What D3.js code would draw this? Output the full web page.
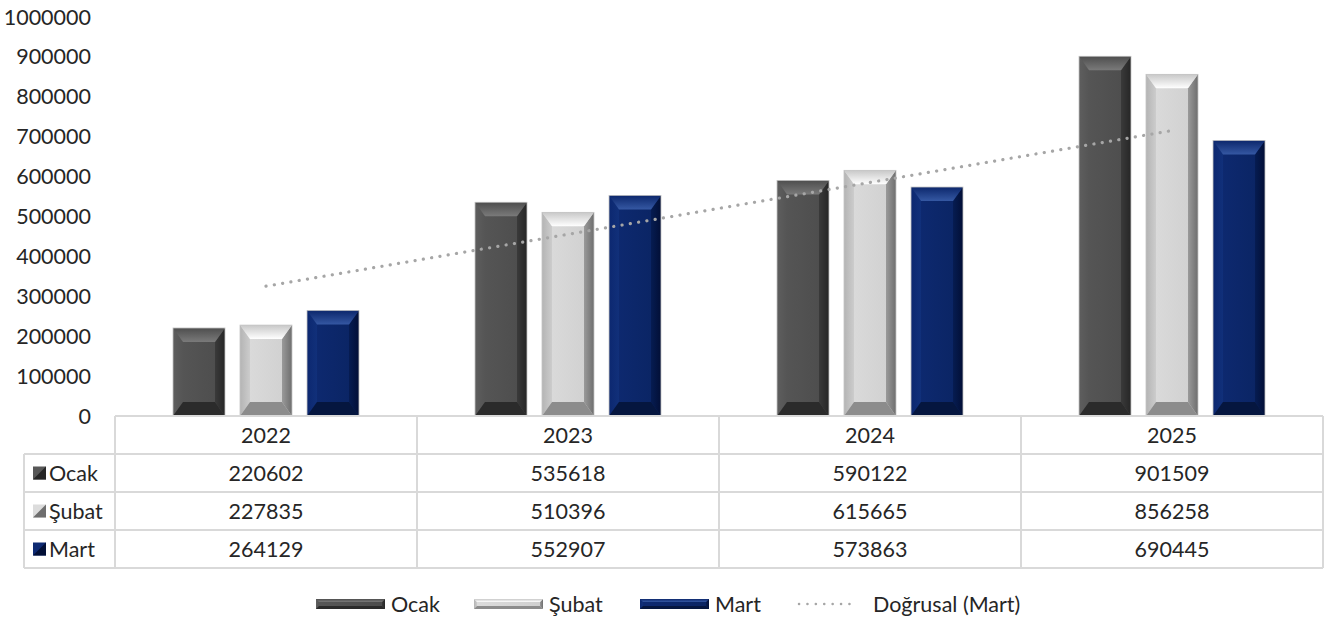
<!DOCTYPE html>
<html>
<head>
<meta charset="utf-8">
<script src="https://cdn.jsdelivr.net/npm/d3@7"></script>
<style>
  body { margin: 0; background: #fff; }
  svg text { font-family: Lato, "Open Sans", sans-serif; fill: #262626; font-size: 21.5px; }
</style>
</head>
<body>
<div id="chart"></div>
<script>
var years = ["2022", "2023", "2024", "2025"];
var seriesNames = ["Ocak", "Şubat", "Mart"];
var ocak = [220602, 535618, 590122, 901509];
var subat = [227835, 510396, 615665, 856258];
var mart = [264129, 552907, 573863, 690445];
var yTicks = [0, 100000, 200000, 300000, 400000, 500000, 600000, 700000, 800000, 900000, 1000000];
var trendLabel = "Doğrusal (Mart)";

// bevel colours per series
var palettes = [
  { id: "oc", face: ["#575757", "#4c4c4c"], topOut: "#4e4e4e", topIn: "#7a7a7a", left: ["#5e5e5e", "#555555"], right: ["#3a3a3a", "#262626"], bottom: "#2b2b2b" },
  { id: "su", face: ["#dcdcdc", "#cfcfcf"], topOut: "#c8c8c8", topIn: "#ffffff", left: ["#b4b4b4", "#cccccc"], right: ["#9a9a9a", "#6e6e6e"], bottom: "#8c8c8c" },
  { id: "ma", face: ["#0e2a72", "#0a2462"], topOut: "#0c276c", topIn: "#3558a3", left: ["#0c2870", "#11307a"], right: ["#061c52", "#020f36"], bottom: "#05163f" }
];

function drawChart() {
  var width = 1341, height = 622;
  var values = [ocak, subat, mart];
  var svg = d3.select("#chart").append("svg")
    .attr("width", width)
    .attr("height", height);

  var defs = svg.append("defs");
  palettes.forEach(function (p) {
    function grad(name, c0, c1, vertical) {
      var g = defs.append("linearGradient").attr("id", p.id + name)
        .attr("x1", 0).attr("y1", 0).attr("x2", vertical ? 0 : 1).attr("y2", vertical ? 1 : 0);
      g.append("stop").attr("offset", "0%").attr("stop-color", c0);
      g.append("stop").attr("offset", "100%").attr("stop-color", c1);
    }
    grad("face", p.face[0], p.face[1], false);
    grad("top", p.topOut, p.topIn, true);
    grad("left", p.left[0], p.left[1], false);
    grad("right", p.right[0], p.right[1], false);
  });

  var plotLeft = 115, plotRight = 1323, plotTop = 17, plotBottom = 416;
  var rowH = 38;

  var x = d3.scaleBand().domain(years).range([plotLeft, plotRight]);
  var x1 = d3.scaleBand().domain(seriesNames)
    .range([58, x.bandwidth() - 58])
    .paddingInner(0.224);
  var y = d3.scaleLinear().domain([0, 1000000]).range([plotBottom, plotTop]);

  // y axis labels
  svg.append("g").selectAll("text")
    .data(yTicks)
    .join("text")
    .attr("x", 91)
    .attr("y", d => y(d))
    .attr("dy", "0.35em")
    .attr("text-anchor", "end")
    .text(d => d);

  function bevelBar(g, x0, w, yTop, yBot, pal, bx, by, outline) {
    var x2 = x0 + w;
    bx = Math.min(bx, w / 2);
    by = Math.min(by, (yBot - yTop) / 2);
    g.append("rect").attr("x", x0).attr("y", yTop).attr("width", w).attr("height", yBot - yTop)
      .attr("fill", "url(#" + pal.id + "face)");
    var pts = {
      top: [[x0, yTop], [x2, yTop], [x2 - bx, yTop + by], [x0 + bx, yTop + by]],
      bottom: [[x0, yBot], [x2, yBot], [x2 - bx, yBot - by], [x0 + bx, yBot - by]],
      left: [[x0, yTop], [x0 + bx, yTop + by], [x0 + bx, yBot - by], [x0, yBot]],
      right: [[x2, yTop], [x2 - bx, yTop + by], [x2 - bx, yBot - by], [x2, yBot]]
    };
    var fills = { top: "url(#" + pal.id + "top)", left: "url(#" + pal.id + "left)", right: "url(#" + pal.id + "right)", bottom: pal.bottom };
    ["left", "right", "top", "bottom"].forEach(function (k) {
      g.append("polygon")
        .attr("points", pts[k].map(p => p.join(",")).join(" "))
        .attr("fill", fills[k]);
    });
    if (outline) {
      g.append("rect").attr("x", x0).attr("y", yTop).attr("width", w).attr("height", yBot - yTop)
        .attr("fill", "none").attr("stroke", "#c4c4c4").attr("stroke-width", 0.8);
    }
  }

  // bars
  var bars = svg.append("g");
  years.forEach(function (yr, i) {
    seriesNames.forEach(function (s, j) {
      var bx = x(yr) + x1(s);
      bevelBar(bars, bx, x1.bandwidth(), y(values[j][i]), y(0), palettes[j], 10, 14, true);
    });
  });

  // linear trendline of Mart
  var n = mart.length;
  var xs = d3.range(1, n + 1);
  var mx = d3.mean(xs), my = d3.mean(mart);
  var slope = d3.sum(xs, (v, k) => (v - mx) * (mart[k] - my)) / d3.sum(xs, v => (v - mx) * (v - mx));
  var icpt = my - slope * mx;
  svg.append("line")
    .attr("x1", x(years[0]) + x.bandwidth() / 2)
    .attr("x2", x(years[n - 1]) + x.bandwidth() / 2)
    .attr("y1", y(icpt + slope * 1))
    .attr("y2", y(icpt + slope * n))
    .attr("stroke", "#a6a6a6")
    .attr("stroke-width", 3.2)
    .attr("stroke-dasharray", "0.1 8.3")
    .attr("stroke-linecap", "round");

  // data table
  var table = svg.append("g");
  var border = "#d9d9d9";
  var tableLeft = 24;
  var tableBottom = plotBottom + rowH * 4;
  table.append("line").attr("x1", plotLeft).attr("x2", plotRight).attr("y1", plotBottom).attr("y2", plotBottom);
  d3.range(1, 5).forEach(function (r) {
    table.append("line").attr("x1", tableLeft).attr("x2", plotRight)
      .attr("y1", plotBottom + r * rowH).attr("y2", plotBottom + r * rowH);
  });
  table.append("line").attr("x1", tableLeft).attr("x2", tableLeft).attr("y1", plotBottom + rowH).attr("y2", tableBottom);
  years.forEach(function (yr) {
    table.append("line").attr("x1", x(yr)).attr("x2", x(yr)).attr("y1", plotBottom).attr("y2", tableBottom);
  });
  table.append("line").attr("x1", plotRight).attr("x2", plotRight).attr("y1", plotBottom).attr("y2", tableBottom);
  table.selectAll("line").attr("stroke", border).attr("stroke-width", 2);

  table.selectAll("text.yr")
    .data(years)
    .join("text")
    .attr("class", "yr")
    .attr("x", d => x(d) + x.bandwidth() / 2)
    .attr("y", plotBottom + rowH / 2)
    .attr("dy", "0.35em")
    .attr("text-anchor", "middle")
    .text(d => d);

  seriesNames.forEach(function (s, j) {
    var ry = plotBottom + (j + 1) * rowH + rowH / 2;
    var sw = table.append("g");
    sw.append("rect").attr("x", 33).attr("y", ry - 6.5).attr("width", 13).attr("height", 13).attr("fill", palettes[j].face[0]);
    sw.append("polygon").attr("points", [[46, ry - 6.5], [46, ry + 6.5], [33, ry + 6.5]].map(p => p.join(",")).join(" "))
      .attr("fill", palettes[j].right[1]);
    table.append("text").attr("x", 49).attr("y", ry).attr("dy", "0.35em").text(s);
    table.selectAll("text.v" + j)
      .data(values[j])
      .join("text")
      .attr("class", "v" + j)
      .attr("x", (d, i) => x(years[i]) + x.bandwidth() / 2)
      .attr("y", ry)
      .attr("dy", "0.35em")
      .attr("text-anchor", "middle")
      .text(d => d);
  });

  // legend
  var legend = svg.append("g");
  var ly = 604;
  var legendX = [316, 474, 640];
  seriesNames.forEach(function (s, j) {
    bevelBar(legend, legendX[j], 69, ly - 5, ly + 5, palettes[j], 3, 3, false);
    legend.append("text").attr("x", legendX[j] + 75).attr("y", ly).attr("dy", "0.35em").text(s);
  });
  legend.append("line")
    .attr("x1", 799).attr("x2", 857).attr("y1", ly).attr("y2", ly)
    .attr("stroke", "#a6a6a6").attr("stroke-width", 2.5)
    .attr("stroke-dasharray", "0.1 8.3").attr("stroke-linecap", "round");
  legend.append("text").attr("x", 873).attr("y", ly).attr("dy", "0.35em").text(trendLabel);
}
drawChart();
</script>
</body>
</html>
